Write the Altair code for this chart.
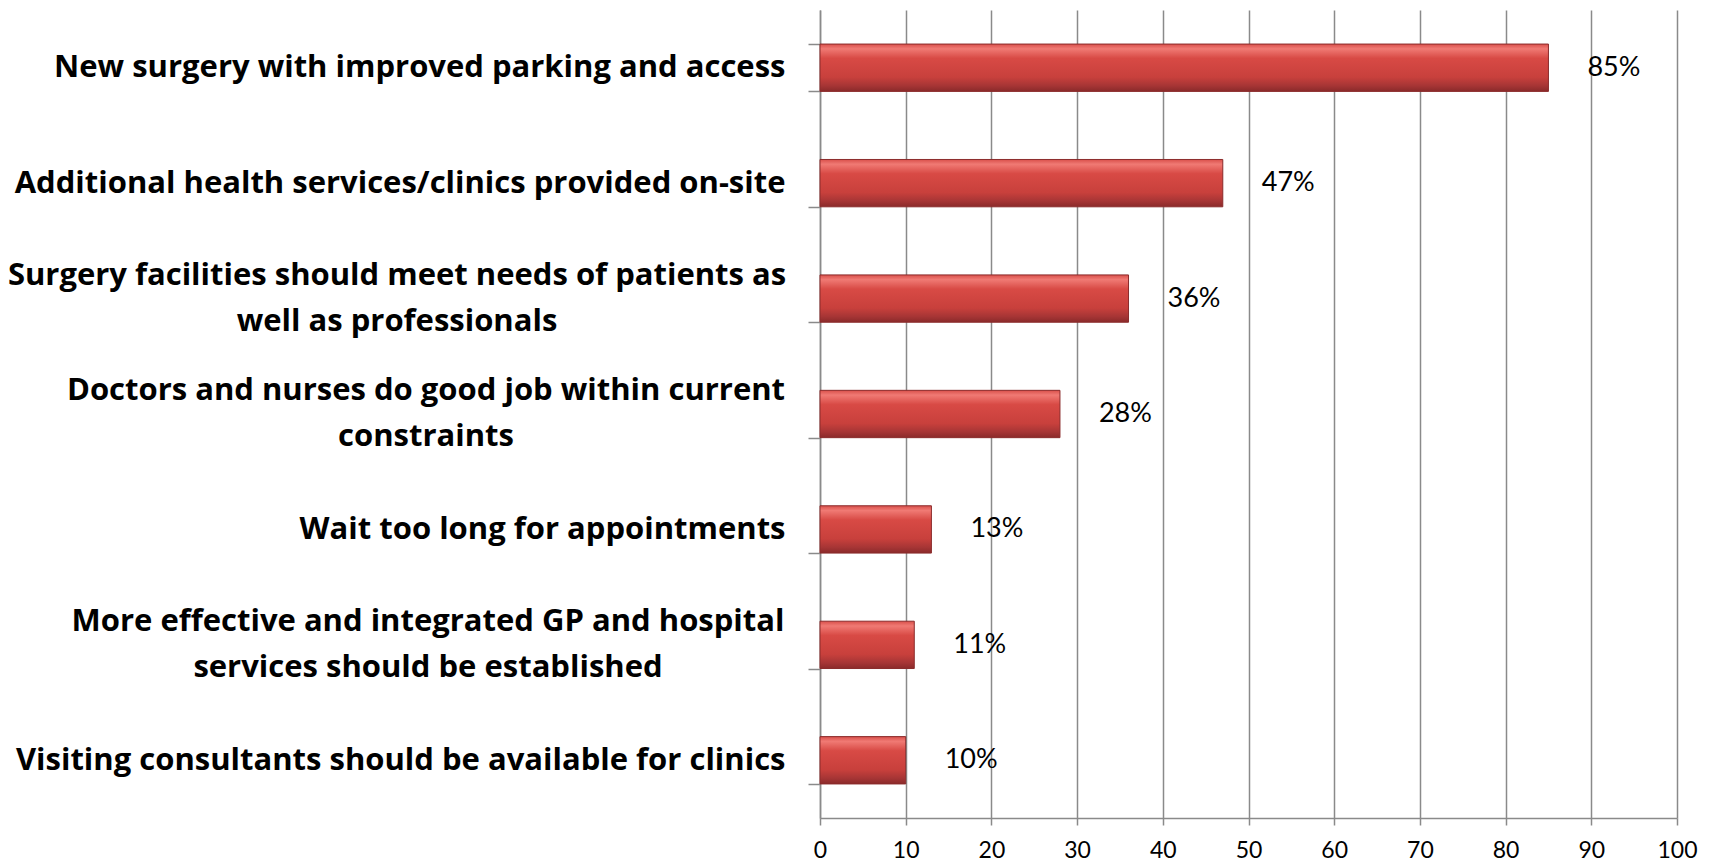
import altair as alt
import pandas as pd

categories = [
    "New surgery with improved parking and access",
    "Additional health services/clinics provided on-site",
    "Surgery facilities should meet needs of patients as\nwell as professionals",
    "Doctors and nurses do good job within current\nconstraints",
    "Wait too long for appointments",
    "More effective and integrated GP and hospital\nservices should be established",
    "Visiting consultants should be available for clinics",
]
values = [85, 47, 36, 28, 13, 11, 10]
x_ticks = [0, 10, 20, 30, 40, 50, 60, 70, 80, 90, 100]

df = pd.DataFrame({"cat": categories, "value": values})
df["label"] = [f"{v}%" for v in values]

GRAY = "#8a8a8a"
LABEL_FONT = "Open Sans"
LABEL_SIZE = 31
LINE_H = 46
# horizontal centre (px from the plot's left edge) of each two-line label block
wrapped_centre = {
    categories[2]: -423,
    categories[3]: -394,
    categories[5]: -392,
}

y_scale = alt.Scale(paddingInner=0.59, paddingOuter=0.295)

y_enc = alt.Y(
    "cat:N",
    sort=None,
    scale=y_scale,
    axis=alt.Axis(
        title=None,
        grid=False,
        tickBand="extent",
        tickSize=12,
        tickColor=GRAY,
        tickWidth=1.5,
        domainColor=GRAY,
        domainWidth=1.5,
        labelFont=LABEL_FONT,
        labelFontWeight="bold",
        labelFontSize=LABEL_SIZE,
        labelColor="black",
        labelLimit=1000,
        labelPadding=23,
        labelExpr="indexof(datum.label, '\\n') >= 0 ? '' : datum.label",
    ),
)

x_enc = alt.X(
    "value:Q",
    scale=alt.Scale(domain=[0, 100], nice=False),
    axis=alt.Axis(
        title=None,
        values=x_ticks,
        grid=True,
        gridColor=GRAY,
        gridWidth=1.5,
        tickSize=7,
        tickColor=GRAY,
        tickWidth=1.5,
        domainColor=GRAY,
        domainWidth=1.5,
        labelFont="Lato",
        labelFontSize=23,
        labelColor="black",
        labelPadding=14,
        labelFlush=False,
    ),
)

grad = alt.LinearGradient(
    gradient="linear",
    x1=0, y1=0, x2=0, y2=1,
    stops=[
        alt.GradientStop(color="#d9504b", offset=0),
        alt.GradientStop(color="#f07a74", offset=0.1),
        alt.GradientStop(color="#d84a45", offset=0.3),
        alt.GradientStop(color="#c8403c", offset=0.7),
        alt.GradientStop(color="#a63535", offset=0.88),
        alt.GradientStop(color="#8a2a2a", offset=1),
    ],
)

bars = alt.Chart(df).mark_bar(color=grad, stroke="#8b2b2b", strokeWidth=1).encode(
    x=x_enc, y=y_enc
)

texts = alt.Chart(df).mark_text(
    align="left", baseline="middle", dx=39, font="Lato", fontSize=27, color="black"
).encode(x="value:Q", y=alt.Y("cat:N", sort=None), text="label:N")

layers = [bars, texts]

# two-line category labels, centred block as in the original slide
for cat, cx in wrapped_centre.items():
    layers.append(
        alt.Chart(df)
        .transform_filter(alt.datum.cat == cat)
        .mark_text(
            align="center",
            baseline="middle",
            lineBreak="\n",
            lineHeight=LINE_H,
            dy=-LINE_H / 2,
            font=LABEL_FONT,
            fontWeight="bold",
            fontSize=LABEL_SIZE,
            color="black",
        )
        .encode(x=alt.value(cx), y=alt.Y("cat:N", sort=None), text="cat:N")
    )

chart = (
    alt.layer(*layers)
    .properties(
        width=857,
        height=808,
        autosize=alt.AutoSizeParams(type="none"),
        padding={"left": 812, "top": 2, "right": 28, "bottom": 44},
        background="white",
    )
    .configure_view(stroke=None)
)

chart.save("out.html", embed_options={"renderer": "svg", "actions": False})
